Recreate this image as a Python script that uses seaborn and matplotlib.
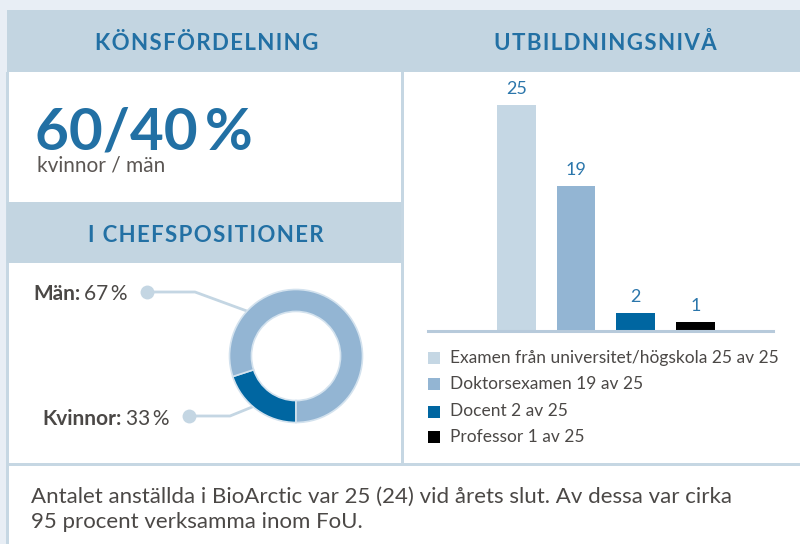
import matplotlib.pyplot as plt
import matplotlib.patches as mpatches
import seaborn as sns

# --- data -------------------------------------------------------------
edu_levels = ["Examen från universitet/högskola", "Doktorsexamen", "Docent", "Professor"]
edu_counts = [25, 19, 2, 1]           # numbers printed on the chart
bar_heights = [25, 16, 2, 1]          # bar lengths as drawn in the reference
edu_total = 25
edu_colors = ["#c5d7e4", "#93b5d3", "#0066a1", "#000000"]

gender_labels = ["Kvinnor", "Män"]
gender_pct = [33, 67]                 # printed percentages
donut_share = [20, 80]                # slice sizes as drawn
donut_colors = ["#0066a1", "#93b5d3"]

headline = "60/40\u2009%"
headline_sub = "kvinnor / män"
footer_lines = [
    "Antalet anställda i BioArctic var 25 (24) vid årets slut. Av dessa var cirka",
    "95 procent verksamma inom FoU.",
]

BG = "#e8eef5"
BAND = "#c3d5e1"
BORDER = "#c6d7e3"
TITLE = "#2270a4"
GREY = "#4b4846"

sns.set_style("white")
plt.rcParams["font.family"] = ["Lato", "DejaVu Sans"]

W, H = 800, 544
fig = plt.figure(figsize=(8, 5.44), dpi=100, facecolor=BG)

# background layer in pixel coordinates
bg = fig.add_axes([0, 0, 1, 1])
bg.set_xlim(0, W)
bg.set_ylim(H, 0)
bg.axis("off")


def rect(x0, y0, x1, y1, color):
    bg.add_patch(mpatches.Rectangle((x0, y0), x1 - x0, y1 - y0, color=color, lw=0))


def spaced(s):
    # poor man's letter spacing
    return "\u200a".join(s)


rect(6, 72, 800, 544, BORDER)          # border colour behind the panels
rect(7, 10, 800, 72, BAND)             # top header band
rect(9, 72, 401, 202, "white")
rect(7, 202, 401, 263, BAND)
rect(9, 263, 401, 463, "white")
rect(404, 72, 800, 463, "white")
rect(9, 466, 800, 544, "white")

title_kw = dict(color=TITLE, fontsize=16, fontweight="bold", ha="center", va="baseline")
bg.text(207, 50, spaced("KÖNSFÖRDELNING"), **title_kw)
bg.text(605, 50, spaced("UTBILDNINGSNIVÅ"), **title_kw)
bg.text(206, 241.5, spaced("I CHEFSPOSITIONER"), **title_kw)

bg.text(35, 149, headline, color=TITLE, fontsize=42, fontweight="bold", va="baseline")
bg.text(37, 172, headline_sub, color="#5b5653", fontsize=15, va="baseline")

# donut labels + connectors
line_c = "#c4d6e3"
bg.plot([147, 195, 255], [292, 292, 314], color=line_c, lw=2, solid_capstyle="round")
bg.plot([189, 230, 262], [416, 416, 403], color=line_c, lw=2, solid_capstyle="round")
bg.plot([147, 189], [292, 416], "o", color=line_c, ms=10, mec="none")
lab_kw = dict(color=GREY, fontsize=15, va="baseline")
bg.text(33, 300, gender_labels[1] + ":", fontweight="bold", **lab_kw)
bg.text(128, 300, f"{gender_pct[1]}\u2009%", ha="right", **lab_kw)
bg.text(42, 425, gender_labels[0] + ":", fontweight="bold", **lab_kw)
bg.text(170, 425, f"{gender_pct[0]}\u2009%", ha="right", **lab_kw)

# legend for the bars
legend_rows = [357.5, 384, 411.5, 437]
for name, n, col, y in zip(edu_levels, edu_counts, edu_colors, legend_rows):
    rect(428, y - 6, 440, y + 6, col)
    bg.text(450, y, f"{name} {n} av {edu_total}", color=GREY, fontsize=12.5, va="center")

for i, line in enumerate(footer_lines):
    bg.text(31, 503 + i * 25, line, color=GREY, fontsize=16, va="baseline")

# --- bar chart --------------------------------------------------------
px_per_unit = 9.04
ax_top, base_y = 75, 331
ax = fig.add_axes([428 / W, 1 - base_y / H, 345 / W, (base_y - ax_top) / H])
ax.set_facecolor("none")
sns.barplot(x=edu_levels, y=bar_heights, hue=edu_levels, palette=edu_colors,
            saturation=1, width=0.65, linewidth=0, legend=False, ax=ax)
ax.set_xlim(-1.48, 4.30)
ax.set_ylim(0, (base_y - ax_top) / px_per_unit)
for cont, n in zip(ax.containers, edu_counts):
    ax.bar_label(cont, labels=[str(n)], padding=6, color="#2b76ab", fontsize=13)
for s in ["top", "left", "right"]:
    ax.spines[s].set_visible(False)
ax.spines["bottom"].set_color("#b7cadb")
ax.spines["bottom"].set_linewidth(2.2)
ax.set_xticks([])
ax.set_yticks([])
ax.set_xlabel("")
ax.set_ylabel("")

# --- donut ------------------------------------------------------------
cx, cy, r_px, half = 296, 356, 66.5, 80
dax = fig.add_axes([(cx - half) / W, 1 - (cy + half) / H, 2 * half / W, 2 * half / H])
dax.pie(donut_share, colors=donut_colors, startangle=270, counterclock=False,
        radius=1, wedgeprops=dict(width=0.33, edgecolor="#d3e2ee", linewidth=1.2))
lim = half / r_px
dax.set_xlim(-lim, lim)
dax.set_ylim(-lim, lim)
dax.axis("off")

fig.savefig("out.png", dpi=100, facecolor=BG)
